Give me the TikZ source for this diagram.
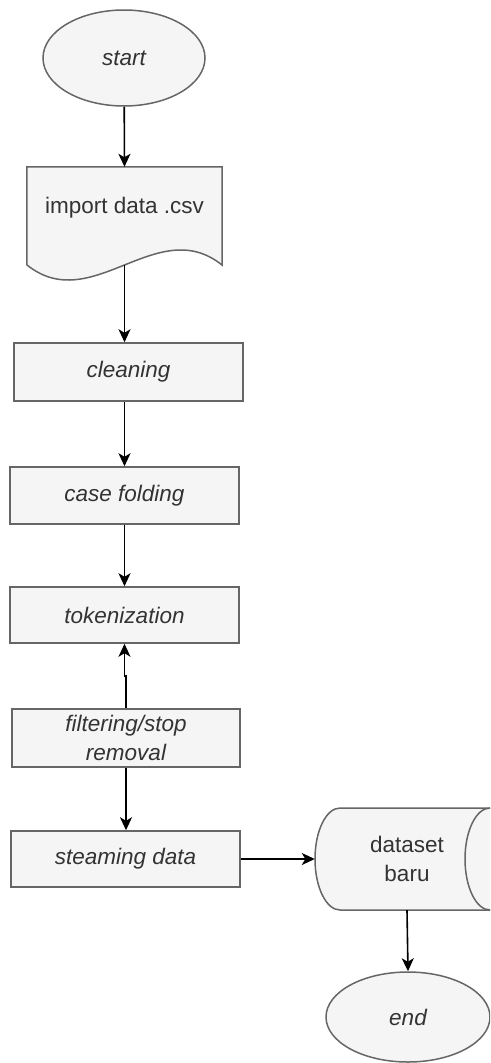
\documentclass[tikz,border=0pt]{standalone}
\usepackage{fontspec}
\setmainfont{Liberation Sans}
\usetikzlibrary{arrows.meta,calc,shapes.geometric}
\definecolor{shfill}{HTML}{F5F5F5}
\definecolor{shline}{HTML}{666666}
\definecolor{shtext}{HTML}{333333}
\begin{document}
\begin{tikzpicture}[x=1pt,y=1pt,
  txt/.style={text=shtext,font=\fontsize{22.5}{28.5}\selectfont,align=center,inner sep=0pt},
  proc/.style={txt,rectangle,draw=shline,fill=shfill,line width=1.5pt,minimum width=229pt,minimum height=57pt,font=\fontsize{22.5}{28.5}\selectfont\itshape},
  term/.style={txt,ellipse,draw=shline,fill=shfill,line width=1.5pt,font=\fontsize{22.5}{28.5}\selectfont\itshape},
  ghost/.style={rectangle,draw=none,inner sep=0pt},
  shapeline/.style={draw=shline,fill=shfill,line width=1.5pt},
  flow/.style={draw=black,line width=1.6pt,-{Stealth[length=13pt,width=12pt,inset=3.5pt]}}
]
\useasboundingbox (0,0) rectangle (490,-1063);
\clip (0,0) rectangle (490,-1063);

% start
\node[term,minimum width=162pt,minimum height=96pt] (start) at (124,-58) {start};

% document
\node[ghost,minimum width=195pt,minimum height=98pt] (doc) at (124.5,-216) {};
\path[shapeline] (doc.north west) -- (doc.north east) -- (222,-265)
  .. controls (157,-213) and (92,-317) .. (27,-265) -- cycle;
\node[txt] (doctext) at (124.5,-208) {import data .csv};

% process boxes
\node[proc,minimum height=58pt] (clean) at (128.5,-372) {cleaning};
\node[proc] (fold) at (124.5,-495.5) {case folding};
\node[proc,minimum height=56pt] (tok) at (124.5,-615) {tokenization};
\node[proc,minimum width=228pt,minimum height=58pt] (filt) at (126,-738) {filtering/stop\\removal};
\node[proc,minimum height=56pt] (steam) at (125.5,-859) {steaming data};

% cylinder (horizontal)
\node[ghost,minimum width=184pt,minimum height=102pt] (db) at (407,-859) {};
\path[shapeline] (340,-808) -- (490,-808)
  arc[start angle=90,end angle=-90,x radius=25pt,y radius=51pt]
  -- (340,-910)
  arc[start angle=270,end angle=90,x radius=25pt,y radius=51pt] -- cycle;
\draw[draw=shline,line width=1.5pt] (490,-808)
  arc[start angle=90,end angle=270,x radius=25pt,y radius=51pt];
\node[txt] (dbtext) at (407,-859) {dataset\\baru};

% end
\node[term,minimum width=164pt,minimum height=90pt] (end) at (408,-1017) {end};

% connectors
\draw[flow] (start) -- (doc.north);
\draw[flow] (doc.south) -- (clean.north -| doc.south);
\draw[flow] (clean.south -| fold.north) -- (fold.north);
\draw[flow] (fold) -- (tok);
\draw[flow] (filt.north) -- ++(0,32) -| (tok.south);
\draw[flow] (filt.south) -- (steam.north -| filt.south);
\draw[flow] (steam.east) -- (db.west);
\draw[flow] (db.south) -- (end.north);
\end{tikzpicture}
\end{document}
